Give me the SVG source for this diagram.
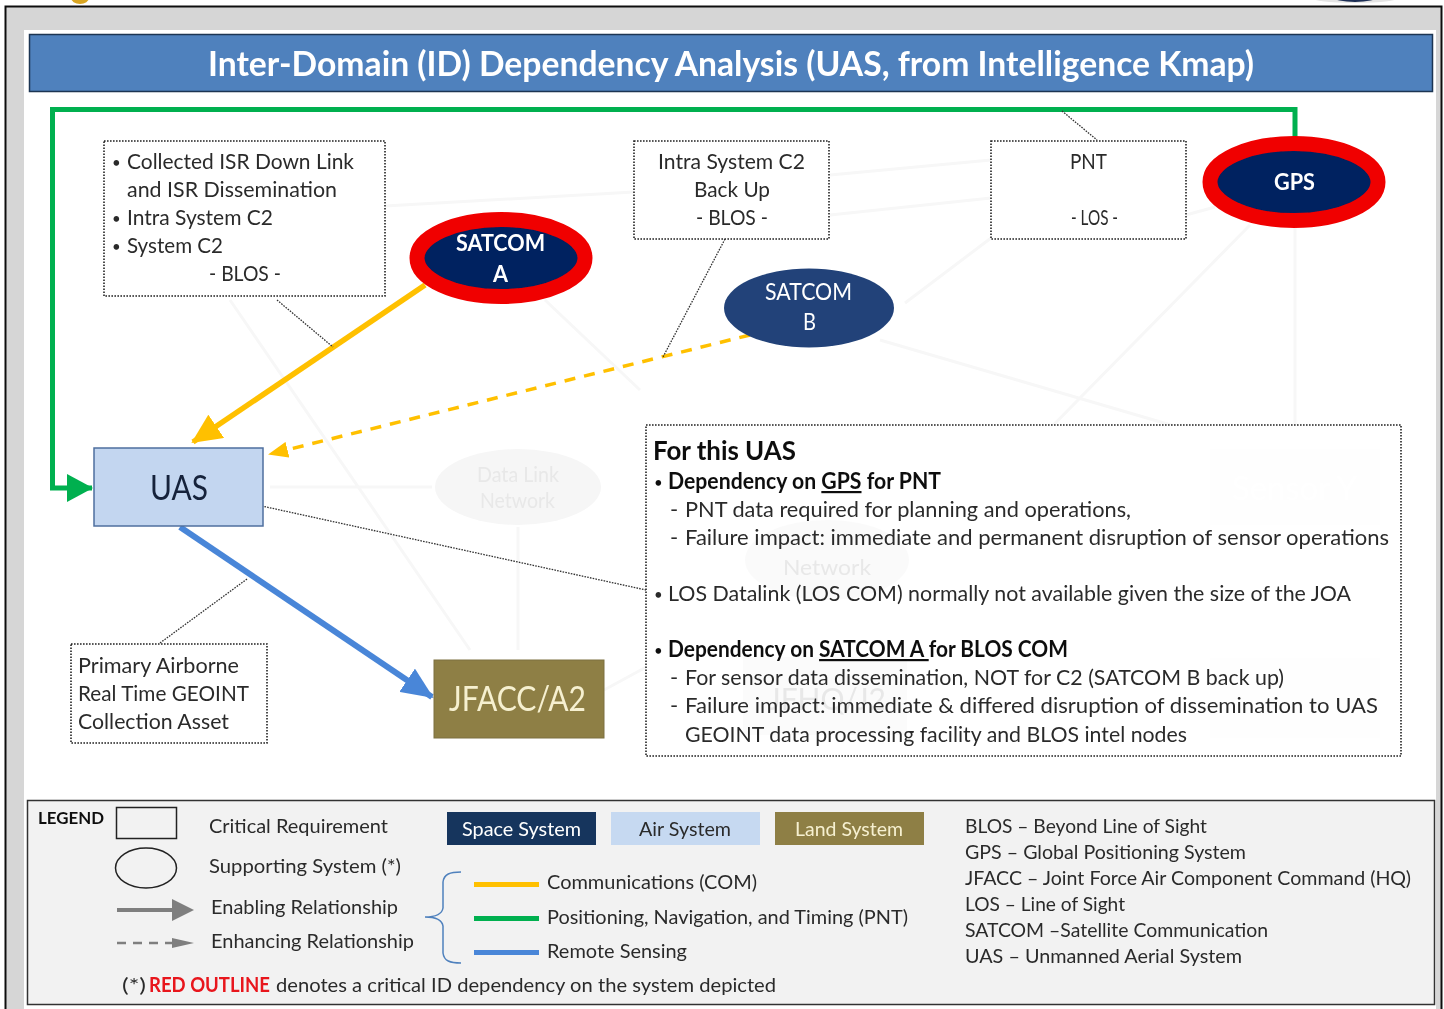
<svg xmlns="http://www.w3.org/2000/svg" width="1444" height="1009" viewBox="0 0 1444 1009">
<style>
text{font-family:"Lato","Open Sans","Liberation Sans",sans-serif;fill:#2b2b2b;font-size:22px}
.b{font-weight:700}
.w{fill:#fff}
.bu{font-size:15px;font-weight:400}
.box{fill:#fff;stroke:#222;stroke-width:1.6;stroke-dasharray:1.6 1.4}
.lead{fill:none;stroke:#333;stroke-width:1.3;stroke-dasharray:1.6 1.2}
.ghost{fill:none;stroke:#f7f7f7;stroke-width:3}
.gf{fill:#f6f6f6}
.gt{fill:#e8e8e8}
</style>
<defs>
<filter id="soft" x="0" y="0" width="100%" height="100%" filterUnits="objectBoundingBox"><feGaussianBlur stdDeviation="0.4"/></filter>
<marker id="ay" markerUnits="userSpaceOnUse" markerWidth="32" markerHeight="28" refX="28" refY="14" orient="auto"><path d="M0 0L30 14L0 28Z" fill="#ffc000"/></marker>
<marker id="ayd" markerUnits="userSpaceOnUse" markerWidth="20" markerHeight="16" refX="18" refY="8" orient="auto"><path d="M0 0L20 8L0 16Z" fill="#ffc000"/></marker>
<marker id="ag" markerUnits="userSpaceOnUse" markerWidth="26" markerHeight="28" refX="25" refY="14" orient="auto"><path d="M0 0L26 14L0 28Z" fill="#00b050"/></marker>
<marker id="ab" markerUnits="userSpaceOnUse" markerWidth="32" markerHeight="28" refX="30" refY="14" orient="auto"><path d="M0 0L32 14L0 28Z" fill="#4a86d8"/></marker>
</defs>

<g filter="url(#soft)">
<g id="frame">
<rect x="0" y="0" width="1444" height="1009" fill="#fff"/>
<rect x="5.5" y="6.5" width="1436" height="1010" fill="#d6d6d6" stroke="#111" stroke-width="2"/>
<rect x="24" y="30" width="1412" height="979" fill="#fff"/>
<ellipse cx="80" cy="-2" rx="9" ry="6" fill="#d9a520"/>
<ellipse cx="1355" cy="-3" rx="46" ry="6" fill="#e4e4e4"/>
<ellipse cx="1355" cy="-3" rx="22" ry="5" fill="#1d2f55"/>
</g>

<g id="background-ghosts">
<path class="ghost" d="M385 206L634 192M830 175L991 160M830 215L991 198M1186 215L1215 207M991 238L905 303M1250 225L960 520M880 340L1205 435M1295 228V650M230 300L470 650M545 300L640 390M518 527V650M270 487H432M604 690L650 665M1000 600L1210 700"/>
<ellipse class="gf" cx="518" cy="487" rx="83" ry="38"/>
<text class="gt" x="477" y="482" textLength="82" lengthAdjust="spacingAndGlyphs">Data Link</text>
<text class="gt" x="480" y="508" textLength="75" lengthAdjust="spacingAndGlyphs">Network</text>
<rect class="gf" x="1210" y="449" width="170" height="76"/>
<rect class="gf" x="1210" y="658" width="170" height="80"/>
</g>

<g id="title">
<rect x="29.500" y="34.500" width="1403" height="57" fill="#4f81bd" stroke="#1f3552" stroke-width="1.500"/>
<text class="b w" x="208" y="76" style="font-size:34px" textLength="1046" lengthAdjust="spacingAndGlyphs">Inter-Domain (ID) Dependency Analysis (UAS, from Intelligence Kmap)</text>
</g>

<g id="panel">
<rect class="box" x="646" y="425" width="755" height="331" fill-opacity="0.9"/>
<ellipse class="gf" cx="827" cy="560" rx="82" ry="40" opacity="0.5"/>
<text class="gt" x="783" y="575" textLength="88" lengthAdjust="spacingAndGlyphs">Network</text>
<rect class="gf" x="743" y="657" width="164" height="78" opacity="0.4"/>
<text class="gt" x="768" y="710" style="font-size:30px" textLength="118" lengthAdjust="spacingAndGlyphs">JFHQ/J2</text>
<text class="gf" x="1232" y="500" style="font-size:32px;fill:#fff" textLength="125" lengthAdjust="spacingAndGlyphs">Sensor Y</text>
<text class="b" x="653" y="460" style="font-size:27px;fill:#111" textLength="143" lengthAdjust="spacingAndGlyphs">For this UAS</text>
<text class="bu" x="654" y="488" style="fill:#111">•</text>
<text class="b" x="668" y="489" style="fill:#111" textLength="273" lengthAdjust="spacingAndGlyphs">Dependency on <tspan text-decoration="underline">GPS</tspan> for PNT</text>
<text x="670" y="517">-</text>
<text x="685" y="517" textLength="446" lengthAdjust="spacingAndGlyphs">PNT data required for planning and operations,</text>
<text x="670" y="545">-</text>
<text x="685" y="545" textLength="704" lengthAdjust="spacingAndGlyphs">Failure impact: immediate and permanent disruption of sensor operations</text>
<text class="bu" x="654" y="600">•</text>
<text x="668" y="601" textLength="683" lengthAdjust="spacingAndGlyphs">LOS Datalink (LOS COM) normally not available given the size of the JOA</text>
<text class="bu" x="654" y="656" style="fill:#111">•</text>
<text class="b" x="668" y="657" style="fill:#111" textLength="400" lengthAdjust="spacingAndGlyphs">Dependency on <tspan text-decoration="underline">SATCOM A </tspan>for BLOS COM</text>
<text x="670" y="685">-</text>
<text x="685" y="685" textLength="599" lengthAdjust="spacingAndGlyphs">For sensor data dissemination, NOT for C2 (SATCOM B back up)</text>
<text x="670" y="713">-</text>
<text x="685" y="713" textLength="693" lengthAdjust="spacingAndGlyphs">Failure impact:  immediate &amp; differed disruption of dissemination to UAS</text>
<text x="685" y="742" textLength="502" lengthAdjust="spacingAndGlyphs">GEOINT data processing facility and BLOS intel nodes</text>
</g>

<g id="connectors" fill="none">
<path d="M1295 137V109.500H52.500V488H92" stroke="#00b050" stroke-width="5" marker-end="url(#ag)"/>
<path d="M425 285L193 442" stroke="#ffc000" stroke-width="5.500" marker-end="url(#ay)"/>
<path d="M750 335L270 454" stroke="#ffc000" stroke-width="3.500" stroke-dasharray="11 9" marker-end="url(#ayd)"/>
<path d="M180 527L432 697" stroke="#4a86d8" stroke-width="6" marker-end="url(#ab)"/>
<path class="lead" d="M277 300L333 347M725 239L663 357M1062 111L1097 140M248 503L646 590M247 579L160 643"/>
</g>

<g id="req-satcom-a">
<rect class="box" x="104" y="141" width="281" height="155"/>
<text class="bu" x="112" y="168">•</text><text x="127" y="169" textLength="227" lengthAdjust="spacingAndGlyphs">Collected ISR Down Link</text>
<text x="127" y="197" textLength="210" lengthAdjust="spacingAndGlyphs">and ISR Dissemination</text>
<text class="bu" x="112" y="224">•</text><text x="127" y="225" textLength="146" lengthAdjust="spacingAndGlyphs">Intra System C2</text>
<text class="bu" x="112" y="252">•</text><text x="127" y="253" textLength="96" lengthAdjust="spacingAndGlyphs">System C2</text>
<text x="209" y="281" textLength="72" lengthAdjust="spacingAndGlyphs">- BLOS -</text>
</g>
<g id="req-satcom-b">
<rect class="box" x="634" y="141" width="195" height="98"/>
<text x="658" y="169" textLength="147" lengthAdjust="spacingAndGlyphs">Intra System C2</text>
<text x="694" y="197" textLength="76" lengthAdjust="spacingAndGlyphs">Back Up</text>
<text x="696" y="225" textLength="72" lengthAdjust="spacingAndGlyphs">- BLOS -</text>
</g>
<g id="req-pnt">
<rect class="box" x="991" y="141" width="195" height="98"/>
<text x="1070" y="169" textLength="37" lengthAdjust="spacingAndGlyphs">PNT</text>
<text x="1071" y="225" textLength="47" lengthAdjust="spacingAndGlyphs">- LOS -</text>
</g>
<g id="req-uas">
<rect class="box" x="71" y="644" width="196" height="99"/>
<text x="78" y="673" textLength="161" lengthAdjust="spacingAndGlyphs">Primary Airborne</text>
<text x="78" y="701" textLength="171" lengthAdjust="spacingAndGlyphs">Real Time GEOINT</text>
<text x="78" y="729" textLength="151" lengthAdjust="spacingAndGlyphs">Collection Asset</text>
</g>

<g id="satcom-a">
<ellipse cx="501" cy="258" rx="84" ry="38.500" fill="#002060" stroke="#f00000" stroke-width="15"/>
<text class="b w" x="456" y="251" style="font-size:23px" textLength="89" lengthAdjust="spacingAndGlyphs">SATCOM</text>
<text class="b w" x="493" y="282" style="font-size:23px" textLength="15" lengthAdjust="spacingAndGlyphs">A</text>
</g>
<g id="gps">
<ellipse cx="1294" cy="182" rx="84" ry="38.500" fill="#002060" stroke="#f00000" stroke-width="15"/>
<text class="b w" x="1274" y="190" style="font-size:23px" textLength="41" lengthAdjust="spacingAndGlyphs">GPS</text>
</g>
<g id="satcom-b">
<ellipse cx="809" cy="308" rx="85" ry="39.500" fill="#234379"/>
<text class="w" x="765" y="300" style="font-size:23px" textLength="87" lengthAdjust="spacingAndGlyphs">SATCOM</text>
<text class="w" x="803" y="330" style="font-size:23px" textLength="13" lengthAdjust="spacingAndGlyphs">B</text>
</g>
<g id="uas">
<rect x="94" y="448" width="169" height="78" fill="#c3d6f0" stroke="#4f6f9f" stroke-width="1.500"/>
<text x="150" y="500" style="font-size:34px;fill:#14233b" textLength="58" lengthAdjust="spacingAndGlyphs">UAS</text>
</g>
<g id="jfacc">
<rect x="434" y="660" width="170" height="78" fill="#8e7f45" stroke="#7d7040"/>
<text x="449" y="711" style="font-size:34px;fill:#f6f0d0" textLength="137" lengthAdjust="spacingAndGlyphs">JFACC/A2</text>
</g>

<g id="legend">
<rect x="27.500" y="800.500" width="1407" height="204" fill="#f2f2f2" stroke="#333" stroke-width="1.500"/>
<text class="b" x="38" y="824" style="font-size:17px;fill:#111" textLength="66" lengthAdjust="spacingAndGlyphs">LEGEND</text>
<rect x="116.500" y="807.500" width="60" height="31" fill="none" stroke="#222" stroke-width="1.500"/>
<ellipse cx="146" cy="868" rx="30.500" ry="20" fill="none" stroke="#222" stroke-width="1.500"/>
<path d="M117 910H173" stroke="#7f7f7f" stroke-width="4"/><path d="M172 899L194 910L172 921Z" fill="#7f7f7f"/>
<path d="M117 943H172" stroke="#7f7f7f" stroke-width="2.500" stroke-dasharray="9 7"/><path d="M172 938L194 943L172 948Z" fill="#7f7f7f"/>
<text x="209" y="833" style="font-size:20px" textLength="179" lengthAdjust="spacingAndGlyphs">Critical Requirement</text>
<text x="209" y="873" style="font-size:20px" textLength="192" lengthAdjust="spacingAndGlyphs">Supporting System (*)</text>
<text x="211" y="914" style="font-size:20px" textLength="187" lengthAdjust="spacingAndGlyphs">Enabling Relationship</text>
<text x="211" y="948" style="font-size:20px" textLength="203" lengthAdjust="spacingAndGlyphs">Enhancing Relationship</text>
<rect x="447" y="812" width="149" height="33" fill="#17365d"/>
<text class="w" x="462" y="836" style="font-size:20px" textLength="119" lengthAdjust="spacingAndGlyphs">Space System</text>
<rect x="611" y="812" width="149" height="33" fill="#c6d9f1"/>
<text x="639" y="836" style="font-size:20px" textLength="92" lengthAdjust="spacingAndGlyphs">Air System</text>
<rect x="775" y="812" width="149" height="33" fill="#8e7f45"/>
<text x="795" y="836" style="font-size:20px;fill:#f6f0d0" textLength="108" lengthAdjust="spacingAndGlyphs">Land System</text>
<path d="M461 872C450 872 444 874 443 882V908C442 914 436 917 425 917C436 917 442 920 443 926V953C444 961 450 963 461 963" fill="none" stroke="#4f81bd" stroke-width="1.500"/>
<path d="M474 884.500H539" stroke="#ffc000" stroke-width="5"/>
<path d="M474 918.500H539" stroke="#00b050" stroke-width="5"/>
<path d="M474 952.500H539" stroke="#4a86d8" stroke-width="5"/>
<text x="547" y="889" style="font-size:20px" textLength="210" lengthAdjust="spacingAndGlyphs">Communications (COM)</text>
<text x="547" y="924" style="font-size:20px" textLength="361" lengthAdjust="spacingAndGlyphs">Positioning, Navigation, and Timing (PNT)</text>
<text x="547" y="958" style="font-size:20px" textLength="140" lengthAdjust="spacingAndGlyphs">Remote Sensing</text>
<text x="122" y="992" style="font-size:20px" textLength="24" lengthAdjust="spacingAndGlyphs">(*)</text>
<text class="b" x="149" y="992" style="font-size:20px;fill:#e8141c" textLength="121" lengthAdjust="spacingAndGlyphs">RED OUTLINE</text>
<text x="276" y="992" style="font-size:20px" textLength="500" lengthAdjust="spacingAndGlyphs">denotes  a critical ID dependency on the system depicted</text>
<text x="965" y="833" style="font-size:20px" textLength="242" lengthAdjust="spacingAndGlyphs">BLOS – Beyond Line of Sight</text>
<text x="965" y="859" style="font-size:20px" textLength="281" lengthAdjust="spacingAndGlyphs">GPS – Global Positioning System</text>
<text x="965" y="885" style="font-size:20px" textLength="446" lengthAdjust="spacingAndGlyphs">JFACC – Joint Force Air Component Command (HQ)</text>
<text x="965" y="911" style="font-size:20px" textLength="160" lengthAdjust="spacingAndGlyphs">LOS – Line of Sight</text>
<text x="965" y="937" style="font-size:20px" textLength="303" lengthAdjust="spacingAndGlyphs">SATCOM –Satellite Communication</text>
<text x="965" y="963" style="font-size:20px" textLength="277" lengthAdjust="spacingAndGlyphs">UAS – Unmanned Aerial System</text>
</g>
</g>
</svg>
